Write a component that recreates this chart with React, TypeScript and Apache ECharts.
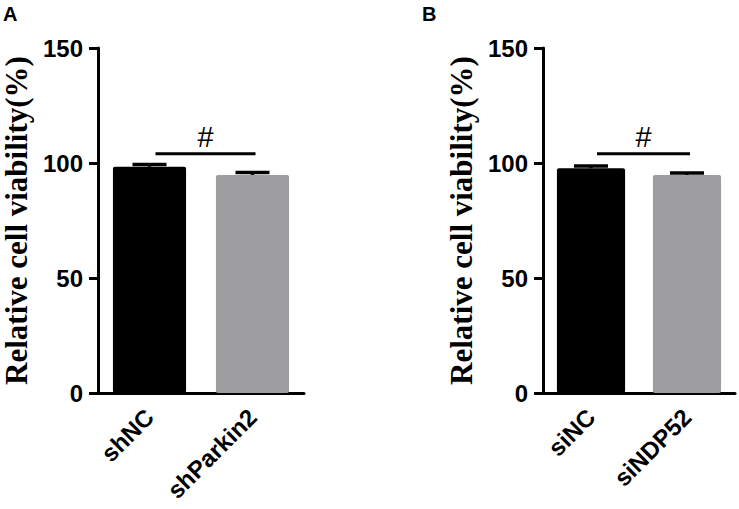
import React, { useEffect, useRef } from "react";
import * as echarts from "echarts";

const categoriesA = ["shNC", "shParkin2"];
const meansA = [98.4, 94.8];
const sdA = [1.0, 1.1];
const categoriesB = ["siNC", "siNDP52"];
const meansB = [97.7, 94.8];
const sdB = [1.0, 0.9];
const sigA = { level: 104, label: "#" };
const sigB = { level: 104, label: "#" };
const yTicks = { min: 0, max: 150, interval: 50 };
const yTitle = "Relative cell viability(%)";
const panelLabels = ["A", "B"];

const barColors = ["#000000", "#9e9da0"];
const SANS = "'Liberation Sans', Arial, sans-serif";
const SERIF = "'Liberation Serif', 'Times New Roman', serif";

function errRender(params: any, api: any) {
  const x = api.value(0);
  const m = api.value(1);
  const s = api.value(2);
  const p0 = api.coord([x, m]);
  const p1 = api.coord([x, m + s]);
  const half = 17;
  const st = { stroke: "#000", lineWidth: 3.5 };
  return {
    type: "group",
    children: [
      { type: "line", shape: { x1: p0[0], y1: p0[1], x2: p1[0], y2: p1[1] }, style: st },
      { type: "line", shape: { x1: p1[0] - half, y1: p1[1], x2: p1[0] + half, y2: p1[1] }, style: st },
    ],
  };
}

function sigRender(params: any, api: any) {
  const a = api.coord([api.value(0), api.value(2)]);
  const b = api.coord([api.value(1), api.value(2)]);
  const x1 = a[0] + 6;
  const x2 = b[0] + 3;
  return {
    type: "group",
    children: [
      { type: "line", shape: { x1, y1: a[1], x2, y2: a[1] }, style: { stroke: "#000", lineWidth: 3 } },
      {
        type: "text",
        x: (x1 + x2) / 2,
        y: a[1] - 2,
        style: {
          text: api.value(3),
          fill: "#000",
          font: `normal 29px ${SANS}`,
          textAlign: "center",
          textVerticalAlign: "bottom",
        },
      },
    ],
  };
}

function makeAxes(gi: number, cats: string[]) {
  const x = {
    type: "category",
    gridIndex: gi,
    data: cats,
    axisLine: { lineStyle: { color: "#000", width: 3 } },
    axisTick: { alignWithLabel: true, length: 9, lineStyle: { color: "#000", width: 3 } },
    axisLabel: { rotate: 45, fontSize: 24, fontWeight: "bold", fontFamily: SANS, color: "#000", margin: 20 },
  };
  const y = {
    type: "value",
    gridIndex: gi,
    min: yTicks.min,
    max: yTicks.max,
    interval: yTicks.interval,
    name: yTitle,
    nameLocation: "middle",
    nameRotate: 90,
    nameGap: 66,
    nameTextStyle: { fontFamily: SERIF, fontWeight: "bold", fontSize: 31, color: "#000" },
    axisLine: { show: true, lineStyle: { color: "#000", width: 3 } },
    axisTick: { show: true, length: 9, lineStyle: { color: "#000", width: 3 } },
    splitLine: { show: false },
    axisLabel: { fontSize: 24, fontWeight: "bold", fontFamily: SANS, color: "#000", margin: 15 },
  };
  return { x, y };
}

function panelSeries(gi: number, means: number[], sds: number[], sig: { level: number; label: string }) {
  return [
    {
      type: "bar",
      xAxisIndex: gi,
      yAxisIndex: gi,
      barWidth: "71%",
      data: means.map((v, i) => ({ value: v, itemStyle: { color: barColors[i], borderRadius: 2 } })),
    },
    {
      type: "custom",
      xAxisIndex: gi,
      yAxisIndex: gi,
      renderItem: errRender,
      data: means.map((v, i) => [i, v, sds[i]]),
      z: 5,
    },
    {
      type: "custom",
      xAxisIndex: gi,
      yAxisIndex: gi,
      renderItem: sigRender,
      encode: { x: 0, y: 2 },
      data: [[0, 1, sig.level, sig.label]],
      z: 5,
    },
  ];
}

export default function App() {
  const ref = useRef<HTMLDivElement>(null);
  useEffect(() => {
    if (!ref.current) return;
    const chart = echarts.init(ref.current, undefined, { renderer: "svg" });
    const a = makeAxes(0, categoriesA);
    const b = makeAxes(1, categoriesB);
    const letterStyle = { fontFamily: SANS, fontWeight: "bold", fontSize: 20, color: "#000" };
    chart.setOption({
      animation: false,
      backgroundColor: "#fff",
      title: [
        { text: panelLabels[0], left: 3, top: 4, padding: 0, textStyle: letterStyle },
        { text: panelLabels[1], left: 422, top: 4, padding: 0, textStyle: letterStyle },
      ],
      grid: [
        { left: 96, top: 48, width: 208, height: 345 },
        { left: 543, top: 48, width: 192, height: 345 },
      ],
      xAxis: [a.x, b.x],
      yAxis: [a.y, b.y],
      series: [...panelSeries(0, meansA, sdA, sigA), ...panelSeries(1, meansB, sdB, sigB)],
    });
    return () => chart.dispose();
  }, []);
  return <div ref={ref} style={{ position: "fixed", left: 0, top: 0, width: 739, height: 509 }} />;
}
